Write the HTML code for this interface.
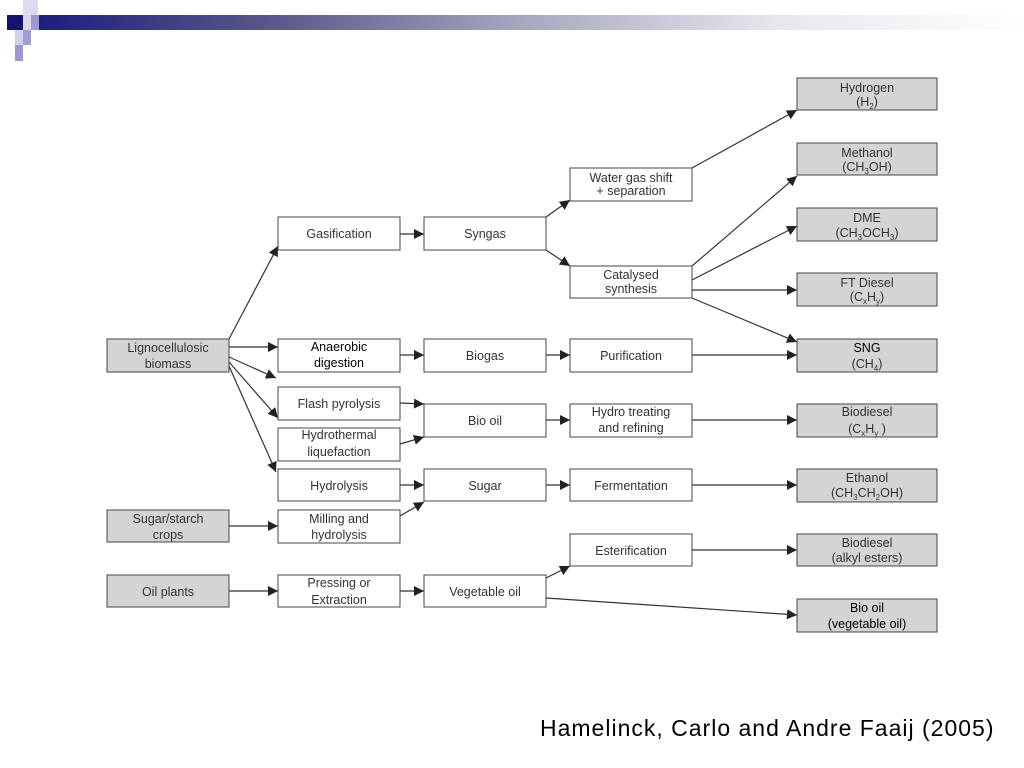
<!DOCTYPE html>
<html><head><meta charset="utf-8"><style>
html,body{margin:0;padding:0;background:#fff;}
body{width:1024px;height:768px;position:relative;overflow:hidden;font-family:"Liberation Sans",sans-serif;}
.cap{position:absolute;left:540px;top:715px;font-size:23px;letter-spacing:1px;color:#000;white-space:nowrap;}
</style></head><body>
<div style="position:absolute;left:30px;top:15px;width:994px;height:15px;background:linear-gradient(to right,#1c1c7c 0%,#5a5a8a 25%,#a8a8c0 50%,#e6e6ee 75%,#fff 100%);"></div>
<div style="position:absolute;left:7px;top:15px;width:16px;height:15px;background:#14146e;"></div>
<div style="position:absolute;left:23px;top:0;width:15px;height:15px;background:#dcdcee;"></div>
<div style="position:absolute;left:23px;top:15px;width:8px;height:15px;background:#d8d8ec;"></div>
<div style="position:absolute;left:31px;top:15px;width:8px;height:15px;background:#9a9acc;"></div>
<div style="position:absolute;left:15px;top:30px;width:16px;height:15px;background:#d0d0e8;"></div>
<div style="position:absolute;left:23px;top:30px;width:8px;height:15px;background:#a0a0d0;"></div>
<div style="position:absolute;left:15px;top:45px;width:8px;height:16px;background:#9a9acc;"></div>
<svg width="1024" height="768" style="position:absolute;left:0;top:0" font-family="Liberation Sans, sans-serif" font-size="12.5" fill="#333">
<defs><marker id="a" viewBox="0 0 10 10" refX="10" refY="5" markerWidth="12" markerHeight="10" markerUnits="userSpaceOnUse" orient="auto"><path d="M0,0L10,5L0,10z" fill="#222"/></marker></defs>
<g stroke="#333" stroke-width="1.2" fill="none" marker-end="url(#a)">
<line x1="229" y1="339" x2="278" y2="246"/>
<line x1="229" y1="347" x2="278" y2="347"/>
<line x1="229" y1="357" x2="276" y2="378"/>
<line x1="229" y1="362" x2="278" y2="418"/>
<line x1="229" y1="366" x2="276" y2="472"/>
<line x1="400" y1="234" x2="424" y2="234"/>
<line x1="546" y1="217" x2="570" y2="200"/>
<line x1="546" y1="250" x2="570" y2="266"/>
<line x1="692" y1="168" x2="797" y2="110"/>
<line x1="692" y1="266" x2="797" y2="176"/>
<line x1="692" y1="280" x2="797" y2="226"/>
<line x1="692" y1="290" x2="797" y2="290"/>
<line x1="692" y1="298" x2="797" y2="342"/>
<line x1="400" y1="355" x2="424" y2="355"/>
<line x1="546" y1="355" x2="570" y2="355"/>
<line x1="692" y1="355" x2="797" y2="355"/>
<line x1="400" y1="403" x2="424" y2="404"/>
<line x1="400" y1="444" x2="424" y2="437"/>
<line x1="546" y1="420" x2="570" y2="420"/>
<line x1="692" y1="420" x2="797" y2="420"/>
<line x1="400" y1="485" x2="424" y2="485"/>
<line x1="400" y1="516" x2="424" y2="502"/>
<line x1="546" y1="485" x2="570" y2="485"/>
<line x1="692" y1="485" x2="797" y2="485"/>
<line x1="229" y1="526" x2="278" y2="526"/>
<line x1="229" y1="591" x2="278" y2="591"/>
<line x1="400" y1="591" x2="424" y2="591"/>
<line x1="546" y1="578" x2="570" y2="566"/>
<line x1="692" y1="550" x2="797" y2="550"/>
<line x1="546" y1="598" x2="797" y2="615"/>
</g>
<g stroke="#444" stroke-width="1">
<rect x="107" y="339" width="122" height="33" fill="#d4d4d4"/>
<rect x="107" y="510" width="122" height="32" fill="#d4d4d4"/>
<rect x="107" y="575" width="122" height="32" fill="#d4d4d4"/>
<g fill="#fff">
<rect x="278" y="217" width="122" height="33"/>
<rect x="278" y="339" width="122" height="33"/>
<rect x="278" y="387" width="122" height="33"/>
<rect x="278" y="428" width="122" height="33"/>
<rect x="278" y="469" width="122" height="32"/>
<rect x="278" y="510" width="122" height="33"/>
<rect x="278" y="575" width="122" height="32"/>
<rect x="424" y="217" width="122" height="33"/>
<rect x="424" y="339" width="122" height="33"/>
<rect x="424" y="404" width="122" height="33"/>
<rect x="424" y="469" width="122" height="32"/>
<rect x="424" y="575" width="122" height="32"/>
<rect x="570" y="168" width="122" height="33"/>
<rect x="570" y="266" width="122" height="32"/>
<rect x="570" y="339" width="122" height="33"/>
<rect x="570" y="404" width="122" height="33"/>
<rect x="570" y="469" width="122" height="32"/>
<rect x="570" y="534" width="122" height="32"/>
</g>
<g fill="#d4d4d4">
<rect x="797" y="78" width="140" height="32"/>
<rect x="797" y="143" width="140" height="32"/>
<rect x="797" y="208" width="140" height="33"/>
<rect x="797" y="273" width="140" height="33"/>
<rect x="797" y="339" width="140" height="33"/>
<rect x="797" y="404" width="140" height="33"/>
<rect x="797" y="469" width="140" height="33"/>
<rect x="797" y="534" width="140" height="32"/>
<rect x="797" y="599" width="140" height="33"/>
</g>
</g>
<g text-anchor="middle">
<text x="168" y="352">Lignocellulosic</text><text x="168" y="368">biomass</text>
<text x="168" y="523">Sugar/starch</text><text x="168" y="539">crops</text>
<text x="168" y="596">Oil plants</text>
<text x="339" y="238">Gasification</text>
<text x="339" y="351" fill="#000">Anaerobic</text><text x="339" y="367" fill="#000">digestion</text>
<text x="339" y="408">Flash pyrolysis</text>
<text x="339" y="439">Hydrothermal</text><text x="339" y="456">liquefaction</text>
<text x="339" y="490">Hydrolysis</text>
<text x="339" y="523">Milling and</text><text x="339" y="539">hydrolysis</text>
<text x="339" y="587">Pressing or</text><text x="339" y="604">Extraction</text>
<text x="485" y="238">Syngas</text>
<text x="485" y="360">Biogas</text>
<text x="485" y="425">Bio oil</text>
<text x="485" y="490">Sugar</text>
<text x="485" y="596">Vegetable oil</text>
<text x="631" y="182">Water gas shift</text><text x="631" y="195">+ separation</text>
<text x="631" y="279">Catalysed</text><text x="631" y="293">synthesis</text>
<text x="631" y="360">Purification</text>
<text x="631" y="416">Hydro treating</text><text x="631" y="432">and refining</text>
<text x="631" y="490">Fermentation</text>
<text x="631" y="555">Esterification</text>
<text x="867" y="92">Hydrogen</text><text x="867" y="106">(H<tspan font-size="8" dy="3">2</tspan><tspan dy="-3">)</tspan></text>
<text x="867" y="157">Methanol</text><text x="867" y="171">(CH<tspan font-size="8" dy="3">3</tspan><tspan dy="-3">OH)</tspan></text>
<text x="867" y="222">DME</text><text x="867" y="237">(CH<tspan font-size="8" dy="3">3</tspan><tspan dy="-3">OCH</tspan><tspan font-size="8" dy="3">3</tspan><tspan dy="-3">)</tspan></text>
<text x="867" y="287">FT Diesel</text><text x="867" y="301">(C<tspan font-size="8" dy="3">x</tspan><tspan dy="-3">H</tspan><tspan font-size="8" dy="3">y</tspan><tspan dy="-3">)</tspan></text>
<text x="867" y="352" fill="#000">SNG</text><text x="867" y="368">(CH<tspan font-size="8" dy="3">4</tspan><tspan dy="-3">)</tspan></text>
<text x="867" y="416">Biodiesel</text><text x="867" y="433">(C<tspan font-size="8" dy="3">x</tspan><tspan dy="-3">H</tspan><tspan font-size="8" dy="3">y</tspan><tspan dy="-3"> )</tspan></text>
<text x="867" y="482">Ethanol</text><text x="867" y="497">(CH<tspan font-size="8" dy="3">3</tspan><tspan dy="-3">CH</tspan><tspan font-size="8" dy="3">2</tspan><tspan dy="-3">OH)</tspan></text>
<text x="867" y="547">Biodiesel</text><text x="867" y="562">(alkyl esters)</text>
<text x="867" y="612" fill="#000">Bio oil</text><text x="867" y="628" fill="#000">(vegetable oil)</text>
</g>
</svg>
<div class="cap">Hamelinck, Carlo and Andre Faaij (2005)</div>
</body></html>
